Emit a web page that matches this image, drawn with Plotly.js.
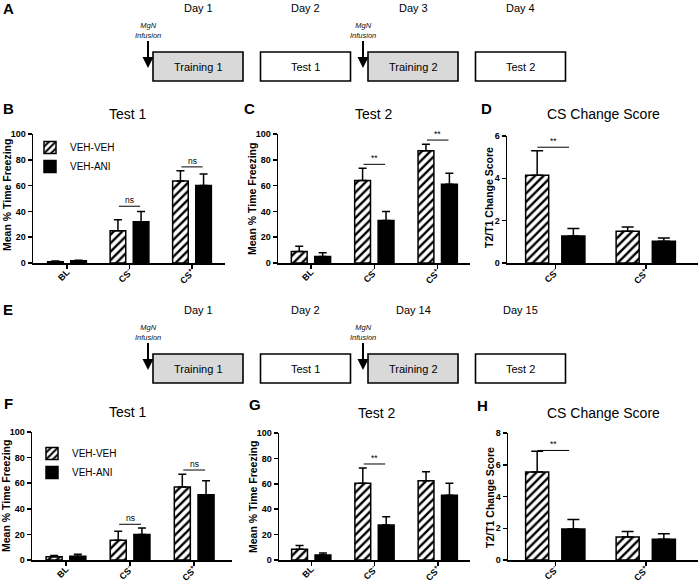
<!DOCTYPE html>
<html>
<head>
<meta charset="utf-8">
<script src="https://cdn.plot.ly/plotly-3.0.1.min.js"></script>
<style>
body{margin:0;background:#fff;}
#fig{width:700px;height:585px;}
</style>
</head>
<body>
<div id="fig"></div>
<script>
// categories / groups
var testCats = ['BL', 'CS<sup>-</sup>', 'CS<sup>+</sup>'];
var scoreCats = ['CS<sup>-</sup>', 'CS<sup>+</sup>'];
var groups = ['VEH-VEH', 'VEH-ANI'];

// experiment 1 (B, C, D)
var b_veh = [1.0, 25, 63.5],  b_veh_err = [0.5, 8.5, 8];
var b_ani = [1.7, 32, 60],    b_ani_err = [0.4, 8, 9];
var c_veh = [9, 64, 87],      c_veh_err = [4, 9.5, 5];
var c_ani = [5, 33, 61],      c_ani_err = [3, 7, 8.5];
var d_veh = [4.15, 1.5],      d_veh_err = [1.15, 0.2];
var d_ani = [1.27, 1.03],     d_ani_err = [0.36, 0.15];

// experiment 2 (F, G, H)
var f_veh = [2.5, 15.5, 57],  f_veh_err = [1, 7, 10];
var f_ani = [3, 20, 51],      f_ani_err = [1.5, 5, 11];
var g_veh = [8.5, 60.5, 62.5],g_veh_err = [3, 12, 7];
var g_ani = [4, 27.5, 51],    g_ani_err = [1.5, 6.5, 9.5];
var h_veh = [5.55, 1.45],     h_veh_err = [1.3, 0.35];
var h_ani = [1.95, 1.3],      h_ani_err = [0.6, 0.35];

// significance marks (category index, height, label)
var b_sigCat = [1, 2], b_sigY = [44, 74.5], b_sigTxt = ['ns', 'ns'];
var c_sigCat = [1, 2], c_sigY = [76.5, 95.3], c_sigTxt = ['**', '**'];
var d_sigCat = [0],    d_sigY = [5.47],       d_sigTxt = ['**'];
var f_sigCat = [1, 2], f_sigY = [27.9, 70.3], f_sigTxt = ['ns', 'ns'];
var g_sigCat = [1],    g_sigY = [75.6],       g_sigTxt = ['**'];
var h_sigCat = [0],    h_sigY = [6.9],        h_sigTxt = ['**'];

// timeline
var stages = ['Training 1', 'Test 1', 'Training 2', 'Test 2'];
var daysA = ['Day 1', 'Day 2', 'Day 3', 'Day 4'];
var daysE = ['Day 1', 'Day 2', 'Day 14', 'Day 15'];

var W = 700, H = 585;
var FONT = 'Liberation Sans, Arial, sans-serif';
function px(x){ return x / W; }
function py(y){ return 1 - y / H; }

var traces = [];
function addBars(vals, errs, xa, ya, hatched, leg, wide){
  var n = vals.length;
  var off = wide ? (hatched ? -0.33 : 0.07) : (hatched ? -0.31 : 0.06);
  var t = {
    type: 'bar',
    name: hatched ? groups[0] : groups[1],
    x: vals.map(function(v, i){ return i; }),
    y: vals,
    xaxis: xa, yaxis: ya,
    offset: off, width: wide ? 0.255 : 0.25,
    marker: {
      color: hatched ? 'white' : 'black',
      line: {color: 'black', width: 1.5},
      pattern: hatched ? {shape: '/', fgcolor: 'black', bgcolor: 'white', size: 6, solidity: 0.4} : {shape: ''}
    },
    error_y: {type: 'data', symmetric: false, array: errs, arrayminus: new Array(n).fill(0),
              color: 'black', thickness: 1.5, width: wide ? 6 : 4},
    showlegend: !!leg,
    hoverinfo: 'skip'
  };
  if (leg) t.legend = leg;
  traces.push(t);
}

addBars(b_veh, b_veh_err, 'x', 'y', true, 'legend');
addBars(b_ani, b_ani_err, 'x', 'y', false, 'legend');
addBars(c_veh, c_veh_err, 'x2', 'y2', true);
addBars(c_ani, c_ani_err, 'x2', 'y2', false);
addBars(d_veh, d_veh_err, 'x3', 'y3', true, null, true);
addBars(d_ani, d_ani_err, 'x3', 'y3', false, null, true);
addBars(f_veh, f_veh_err, 'x4', 'y4', true, 'legend2');
addBars(f_ani, f_ani_err, 'x4', 'y4', false, 'legend2');
addBars(g_veh, g_veh_err, 'x5', 'y5', true);
addBars(g_ani, g_ani_err, 'x5', 'y5', false);
addBars(h_veh, h_veh_err, 'x6', 'y6', true, null, true);
addBars(h_ani, h_ani_err, 'x6', 'y6', false, null, true);

function xAxis(d0, d1, range, cats, ya){
  return {
    domain: [px(d0), px(d1)], range: range, anchor: ya,
    tickvals: cats.map(function(c, i){ return i; }), ticktext: cats,
    tickangle: -45, ticks: 'outside', ticklen: 4, tickwidth: 1.5, tickcolor: 'black',
    ticklabelstandoff: -5,
    showline: true, linecolor: 'black', linewidth: 1.5, showgrid: false, zeroline: false,
    tickfont: {family: FONT, size: 9, weight: 'bold', color: 'black'}
  };
}
function yAxis(top, bottom, range, dtick, xa){
  return {
    domain: [py(bottom), py(top)], range: range, dtick: dtick, anchor: xa,
    ticks: 'outside', ticklen: 4, tickwidth: 1.5, tickcolor: 'black',
    showline: true, linecolor: 'black', linewidth: 1.5, showgrid: false, zeroline: false,
    tickfont: {family: FONT, size: 9, weight: 'bold', color: 'black'}
  };
}

var freezeTitle = 'Mean % Time Freezing';
var scoreTitle = 'T2/T1 Change Score';

var layout = {
  width: W, height: H,
  margin: {l: 0, r: 0, t: 0, b: 0},
  paper_bgcolor: 'white', plot_bgcolor: 'rgba(0,0,0,0)',
  barmode: 'overlay',
  font: {family: FONT, color: 'black'},
  xaxis:  xAxis(33, 225, [-0.544, 2.528], testCats, 'y'),
  yaxis:  yAxis(134, 263, [0, 100], 20, 'x'),
  xaxis2: xAxis(278, 470, [-0.52, 2.51], testCats, 'y2'),
  yaxis2: yAxis(134, 263, [0, 100], 20, 'x2'),
  xaxis3: xAxis(507, 698, [-0.536, 1.575], scoreCats, 'y3'),
  yaxis3: yAxis(136, 263, [0, 6], 2, 'x3'),
  xaxis4: xAxis(32, 232, [-0.53, 2.59], testCats, 'y4'),
  yaxis4: yAxis(432, 560, [0, 100], 20, 'x4'),
  xaxis5: xAxis(279, 470, [-0.51, 2.51], testCats, 'y5'),
  yaxis5: yAxis(433, 560, [0, 100], 20, 'x5'),
  xaxis6: xAxis(508, 698, [-0.525, 1.575], scoreCats, 'y6'),
  yaxis6: yAxis(433, 560, [0, 8], 2, 'x6'),
  legend:  {x: px(30), y: py(133), xanchor: 'left', yanchor: 'top', bgcolor: 'rgba(0,0,0,0)',
            font: {family: FONT, size: 10}, tracegroupgap: 0, itemwidth: 30},
  legend2: {x: px(32), y: py(439), xanchor: 'left', yanchor: 'top', bgcolor: 'rgba(0,0,0,0)',
            font: {family: FONT, size: 10}, tracegroupgap: 0, itemwidth: 30},
  shapes: [], annotations: []
};

// significance bars
function addSig(cats, ys, txts, xa, ya, wide){
  cats.forEach(function(c, i){
    var a = wide ? 0.2 : 0.17, b = wide ? 0.15 : 0.17;
    layout.shapes.push({type: 'line', xref: xa, yref: ya, x0: c - a, x1: c + b, y0: ys[i], y1: ys[i],
                        line: {color: 'black', width: 1}});
    layout.annotations.push({xref: xa, yref: ya, x: c - (a - b) / 2, y: ys[i], text: txts[i], showarrow: false,
                             yanchor: 'bottom', yshift: -1, font: {size: 8.5, color: 'black'}});
  });
}
addSig(b_sigCat, b_sigY, b_sigTxt, 'x', 'y');
addSig(c_sigCat, c_sigY, c_sigTxt, 'x2', 'y2');
addSig(d_sigCat, d_sigY, d_sigTxt, 'x3', 'y3', true);
addSig(f_sigCat, f_sigY, f_sigTxt, 'x4', 'y4');
addSig(g_sigCat, g_sigY, g_sigTxt, 'x5', 'y5');
addSig(h_sigCat, h_sigY, h_sigTxt, 'x6', 'y6', true);

function txt(x, y, s, size, extra){
  var a = {xref: 'paper', yref: 'paper', x: px(x), y: py(y), text: s, showarrow: false,
           xanchor: 'center', yanchor: 'middle', font: {size: size, color: 'black', family: FONT}};
  for (var k in extra) a[k] = extra[k];
  layout.annotations.push(a);
}

// y axis titles
var ytf = {textangle: -90, font: {size: 10.5, color: 'black', family: FONT, weight: 'bold'}};
txt(7, 195, freezeTitle, 10.5, ytf);
txt(252, 199, freezeTitle, 10.5, ytf);
txt(489, 198, scoreTitle, 10.5, ytf);
txt(6, 496, freezeTitle, 10.5, ytf);
txt(253, 497, freezeTitle, 10.5, ytf);
txt(490, 497, scoreTitle, 10.5, ytf);

// timeline rows (A and E)
function timeline(dy, days){
  stages.forEach(function(s, i){
    var left = 153 + i * 107.5;
    var training = s.indexOf('Training') === 0;
    layout.shapes.push({type: 'rect', xref: 'paper', yref: 'paper',
      x0: px(left), x1: px(left + 90), y0: py(dy + 52), y1: py(dy + 81),
      fillcolor: training ? '#d9d9d9' : 'white', line: {color: 'black', width: 1.6}});
    txt(left + 45, dy + 67, s, 11);
    txt(left + 45, dy + 8, days[i], 11);
    if (training) {
      layout.annotations.push({xref: 'paper', yref: 'paper', x: px(left - 5), y: py(dy + 68),
        ax: 0, ay: -38, text: '<i>MgN<br>Infusion</i>', showarrow: true,
        arrowhead: 2, arrowsize: 1.1, arrowwidth: 2, arrowcolor: 'black',
        font: {size: 7.5, color: '#111', family: FONT}});
    }
  });
}
timeline(0, daysA);
timeline(302, daysE);

// panel letters
var bold = {font: {size: 15, color: 'black', family: FONT, weight: 'bold'}};
txt(8, 9, 'A', 15, bold);
txt(8, 108, 'B', 15, bold);
txt(249, 108, 'C', 15, bold);
txt(486, 108, 'D', 15, bold);
txt(8, 309, 'E', 15, bold);
txt(8, 403, 'F', 15, bold);
txt(255, 404, 'G', 15, bold);
txt(482, 405, 'H', 15, bold);

// panel titles
txt(128, 114, 'Test 1', 14);
txt(374, 114, 'Test 2', 14);
txt(603, 114, 'CS Change Score', 14);
txt(128, 412, 'Test 1', 14);
txt(377, 413, 'Test 2', 14);
txt(603, 413, 'CS Change Score', 14);

Plotly.newPlot('fig', traces, layout, {staticPlot: true});
</script>
</body>
</html>
